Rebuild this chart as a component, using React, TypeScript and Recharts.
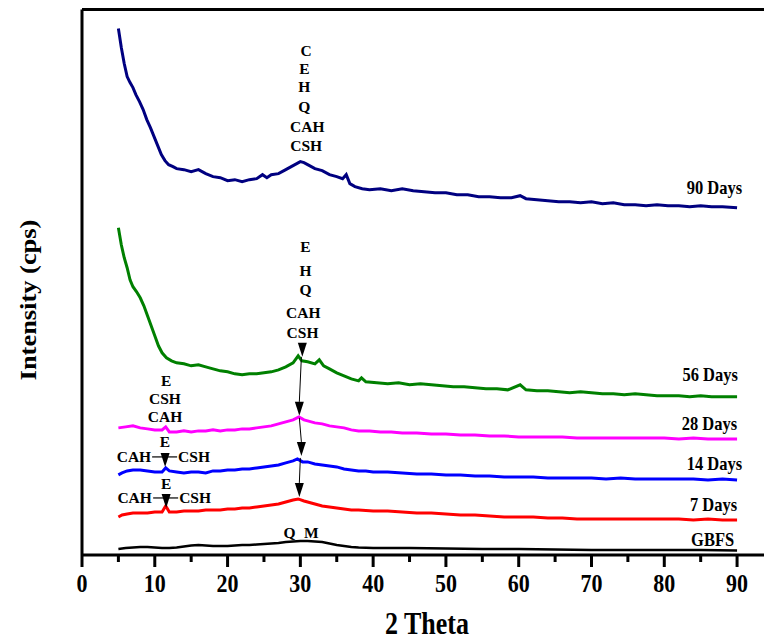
import { LineChart, Line, XAxis, YAxis, ReferenceDot, ReferenceLine } from "recharts";

// 2θ (deg) vs intensity (arbitrary cps, series stacked with offsets as in the figure)
const days90: [number, number][] = [
  [5, 5260], [5.4, 5070], [5.8, 4910], [6.2, 4780], [6.6, 4720], [7, 4670], [7.4, 4600], [7.9, 4530],
  [8.4, 4450], [8.9, 4350], [9.4, 4270], [9.9, 4180], [10.4, 4090], [10.9, 4000], [11.4, 3940], [11.9, 3900],
  [12.5, 3880], [13, 3860], [14, 3850], [15, 3830], [16, 3850], [17, 3810], [18, 3780], [19, 3770],
  [20, 3740], [21, 3750], [22, 3730], [23, 3750], [24, 3760], [24.8, 3800], [25.4, 3770], [26, 3800],
  [27, 3810], [28, 3850], [29, 3890], [30, 3930], [30.5, 3920], [31, 3900], [32, 3860], [33, 3840],
  [34, 3800], [35, 3780], [35.8, 3760], [36.3, 3800], [36.8, 3710], [37.5, 3680], [38.5, 3660], [39.5, 3650],
  [41, 3660], [42.5, 3640], [44, 3660], [45.5, 3640], [47, 3630], [48.5, 3620], [50, 3620], [51.5, 3600],
  [53, 3600], [54.5, 3580], [56, 3580], [57.5, 3570], [59, 3570], [60.2, 3590], [61, 3560], [62.5, 3550],
  [64, 3540], [65.5, 3530], [67, 3530], [68.5, 3520], [70, 3530], [71.5, 3510], [73, 3520], [74.5, 3500],
  [76, 3500], [77.5, 3490], [79, 3500], [80.5, 3490], [82, 3490], [83.5, 3480], [85, 3490], [86.5, 3480],
  [88, 3480], [90, 3470],
];

const days56: [number, number][] = [
  [5, 3270], [5.4, 3100], [5.8, 2970], [6.2, 2870], [6.6, 2750], [7, 2680], [7.5, 2630], [8, 2570],
  [8.5, 2490], [9, 2390], [9.5, 2290], [10, 2190], [10.5, 2090], [11, 2020], [11.6, 1970], [12.3, 1940],
  [13, 1920], [14, 1910], [15, 1890], [16, 1900], [17, 1880], [18, 1860], [19, 1840], [20, 1830],
  [21, 1810], [22, 1800], [23, 1810], [24, 1810], [25, 1820], [26, 1830], [27, 1850], [28, 1880],
  [29, 1920], [29.7, 1990], [30.2, 1940], [31, 1930], [32, 1910], [32.6, 1950], [33.2, 1890], [34, 1860],
  [35, 1820], [36, 1790], [37, 1760], [38, 1740], [38.4, 1770], [39, 1730], [40.5, 1720], [42, 1710],
  [43.5, 1720], [45, 1700], [46.5, 1710], [48, 1700], [49.5, 1690], [51, 1680], [52.5, 1680], [54, 1670],
  [55.5, 1660], [57, 1660], [58.5, 1650], [60.2, 1700], [61, 1650], [62.5, 1640], [64, 1640], [65.5, 1630],
  [67, 1620], [68.5, 1630], [70, 1620], [71.5, 1610], [73, 1610], [74.5, 1600], [76, 1610], [77.5, 1600],
  [79, 1590], [80.5, 1590], [82, 1590], [83.5, 1580], [85, 1590], [86.5, 1580], [88, 1580], [90, 1580],
];

const days28: [number, number][] = [
  [5, 1270], [6, 1280], [7, 1290], [8, 1270], [9, 1260], [10, 1250], [11, 1250], [11.5, 1280],
  [12, 1230], [13, 1230], [14, 1240], [15, 1230], [16, 1240], [17, 1240], [18, 1250], [19, 1240],
  [20, 1250], [21, 1250], [22, 1260], [23, 1260], [24, 1270], [25, 1280], [26, 1290], [27, 1310],
  [28, 1330], [29, 1350], [29.8, 1380], [30.5, 1350], [31, 1340], [32, 1320], [33, 1310], [34, 1290],
  [35, 1280], [36, 1270], [37, 1250], [38, 1240], [39.5, 1240], [41, 1230], [42.5, 1230], [44, 1220],
  [46, 1220], [48, 1210], [50, 1210], [52, 1200], [54, 1200], [56, 1190], [58, 1190], [60, 1180],
  [62, 1180], [64, 1180], [66, 1180], [68, 1170], [70, 1170], [72, 1170], [74, 1170], [76, 1170],
  [78, 1170], [80, 1170], [82, 1160], [84, 1170], [86, 1160], [88, 1160], [90, 1160],
];

const days14: [number, number][] = [
  [5, 800], [5.5, 820], [6.2, 840], [7, 850], [8, 850], [9, 840], [10, 830], [11, 830],
  [11.5, 870], [12, 840], [13, 830], [14, 820], [15, 830], [16, 830], [17, 820], [18, 840],
  [19, 840], [20, 850], [21, 850], [22, 860], [23, 860], [24, 870], [25, 880], [26, 890],
  [27, 900], [28, 920], [29, 940], [29.6, 960], [30.3, 930], [31, 930], [32, 910], [33, 900],
  [34, 890], [35, 880], [36, 860], [37, 850], [38, 840], [39, 840], [40, 830], [42, 830],
  [44, 820], [46, 810], [48, 810], [50, 800], [52, 800], [54, 790], [56, 790], [58, 780],
  [60, 780], [62, 780], [64, 770], [66, 770], [68, 770], [70, 770], [72, 760], [74, 770],
  [76, 760], [78, 760], [80, 760], [82, 760], [84, 760], [86, 750], [88, 760], [90, 750],
];

const days7: [number, number][] = [
  [5, 380], [5.5, 400], [6.2, 410], [7, 420], [8, 420], [9, 420], [10, 430], [11, 430],
  [11.5, 490], [12, 430], [13, 430], [14, 440], [15, 440], [16, 440], [17, 450], [18, 450],
  [19, 450], [20, 460], [21, 460], [22, 470], [23, 470], [24, 480], [25, 490], [26, 500],
  [27, 510], [28, 530], [29, 550], [29.7, 560], [30.5, 540], [31, 530], [32, 510], [33, 490],
  [34, 480], [35, 470], [36, 460], [37, 450], [38, 450], [40, 440], [42, 440], [44, 430],
  [46, 420], [48, 420], [50, 410], [52, 400], [54, 400], [56, 390], [58, 380], [60, 380],
  [62, 380], [64, 370], [66, 370], [68, 360], [70, 360], [72, 360], [74, 360], [76, 360],
  [78, 360], [80, 360], [82, 360], [84, 350], [86, 360], [88, 350], [90, 350],
];

const gbfs: [number, number][] = [
  [5, 60], [6, 70], [7, 75], [8, 80], [9, 80], [10, 75], [11, 70], [12, 70],
  [13, 75], [14, 85], [15, 95], [16, 100], [17, 95], [18, 90], [19, 90], [20, 90],
  [21, 95], [22, 100], [23, 100], [24, 105], [25, 110], [26, 115], [27, 120], [28, 130],
  [29, 135], [30, 140], [31, 140], [32, 135], [33, 130], [34, 115], [35, 100], [36, 90],
  [37, 80], [38, 75], [40, 70], [45, 70], [50, 65], [55, 60], [60, 60], [65, 55],
  [70, 50], [75, 50], [80, 50], [85, 50], [90, 45],
];

const seriesNames = ["90 Days", "56 Days", "28 Days", "14 Days", "7 Days", "GBFS"];
const seriesColors = ["#000080", "#008000", "#ff00ff", "#0000ff", "#ff0000", "#000000"];
const seriesData = [days90, days56, days28, days14, days7, gbfs];

// series name labels at right end
const nameSpots: [number, number][] = [
  [90.7, 3670], [90.1, 1800], [90.0, 1310], [90.7, 910], [90.0, 500], [89.6, 150],
];

// phase annotations: x, y, text, anchor
const phaseNotes: [number, number, string, string][] = [
  [30.8, 5040, "C", "middle"], [30.55, 4860, "E", "middle"], [30.55, 4675, "H", "middle"],
  [30.55, 4480, "Q", "middle"], [30.95, 4280, "CAH", "middle"], [30.8, 4090, "CSH", "middle"],
  [30.7, 3080, "E", "middle"], [30.7, 2840, "H", "middle"], [30.7, 2650, "Q", "middle"],
  [30.4, 2420, "CAH", "middle"], [30.3, 2220, "CSH", "middle"],
  [11.55, 1745, "E", "middle"], [11.4, 1560, "CSH", "middle"], [11.4, 1380, "CAH", "middle"],
  [11.4, 1130, "E", "middle"], [9.5, 980, "CAH", "end"], [13.2, 980, "CSH", "start"],
  [11.55, 710, "E", "middle"], [9.6, 570, "CAH", "end"], [13.35, 570, "CSH", "start"],
  [28.5, 220, "Q", "middle"], [31.5, 220, "M", "middle"],
];

// arrow tips (down-pointing) and the leader segments between them
const arrowTips: [number, number][] = [[30.27, 1980], [29.86, 1390], [30.14, 990], [29.86, 580]];
const crossTips: [number, number][] = [[11.42, 880], [11.56, 470]];
const leaders: [number, number, number, number][] = [
  [30.14, 1980, 29.86, 1530], [29.86, 1370, 30.14, 1130], [30.0, 970, 29.86, 720],
];

const bottomTicks = [0, 5, 10, 15, 20, 25, 30, 35, 40, 45, 50, 55, 60, 65, 70, 75, 80, 85, 90];
const topTicks = [5, 10, 15, 20, 25, 30, 35, 40, 45, 50, 55, 60, 65, 70, 75, 80, 85, 90];
const yTicks = Array.from({ length: 38 }, (_, i) => (i * 5450) / 37);

const FONT = '"Liberation Serif", "Times New Roman", serif';

function StretchText({ x, y, text, size, anchor = "middle", sy = 1.05 }: any) {
  return (
    <g transform={`translate(${x},${y}) scale(1,${sy})`}>
      <text x={0} y={0} dy="0.34em" textAnchor={anchor} fontFamily={FONT} fontWeight="bold" fontSize={size} fill="#000">
        {text}
      </text>
    </g>
  );
}

// bottom tick: long mark + label every 10, short mark in between
function XTick({ x, y, payload }: any) {
  const major = payload.value % 10 === 0;
  return (
    <g>
      <line x1={x} x2={x} y1={y} y2={y + (major ? 12 : 7)} stroke="#000" strokeWidth={3} />
      {major && <StretchText x={x} y={y + 28} text={payload.value} size={22} sy={1.15} />}
    </g>
  );
}

const axisStyle = { stroke: "#000", strokeWidth: 3 };

export default function App() {
  return (
    <div style={{ position: "absolute", left: 0, top: 0, width: 764, height: 640, overflow: "hidden", background: "#fff" }}>
      <LineChart width={764} height={640} margin={{ top: 9.5, right: 0, bottom: 84, left: 82 }}>
        <XAxis xAxisId="top" orientation="top" mirror type="number" domain={[0, 93.7]} allowDataOverflow ticks={topTicks}
          interval={0} tick={false} tickSize={4} axisLine={axisStyle} tickLine={{ stroke: "#000", strokeWidth: 1.5 }} height={1} />
        <XAxis xAxisId="main" dataKey="x" type="number" domain={[0, 93.7]} allowDataOverflow ticks={bottomTicks} interval={0}
          tick={<XTick />} tickLine={false} tickSize={0} tickMargin={0} axisLine={axisStyle} height={1}
          label={{
            content: ({ viewBox }: any) => (
              <StretchText x={viewBox.x + viewBox.width / 2 + 4} y={623} text="2 Theta" size={26} sy={1.2} />
            ),
          }}
        />
        <YAxis yAxisId="y" type="number" domain={[0, 5450]} allowDataOverflow ticks={yTicks} interval={0} mirror width={1}
          tick={false} tickSize={4} axisLine={axisStyle} tickLine={{ stroke: "#000", strokeWidth: 1.5 }}
          label={{
            content: () => (
              <g transform="translate(28,300) rotate(-90) scale(1.15,1)">
                <text x={0} y={0} dy="0.34em" textAnchor="middle" fontFamily={FONT} fontWeight="bold" fontSize={23} fill="#000">
                  Intensity (cps)
                </text>
              </g>
            ),
          }}
        />
        {seriesData.map((s, i) => (
          <Line key={seriesNames[i]} xAxisId="main" yAxisId="y" data={s.map(([x, v]) => ({ x, v }))} dataKey="v"
            type="linear" stroke={seriesColors[i]} strokeWidth={i === 5 ? 2.4 : 3} dot={false} isAnimationActive={false} />
        ))}
        {leaders.map(([x1, y1, x2, y2], i) => (
          <ReferenceLine key={"l" + i} xAxisId="main" yAxisId="y" segment={[{ x: x1, y: y1 }, { x: x2, y: y2 }]}
            stroke="#000" strokeWidth={1} ifOverflow="visible" />
        ))}
        {arrowTips.map(([x, y], i) => (
          <ReferenceDot key={"a" + i} xAxisId="main" yAxisId="y" x={x} y={y} r={0} ifOverflow="visible"
            shape={(p: any) => <path d={`M${p.cx - 4.5},${p.cy - 14}L${p.cx + 4.5},${p.cy - 14}L${p.cx},${p.cy}Z`} fill="#000" />} />
        ))}
        {crossTips.map(([x, y], i) => (
          <ReferenceDot key={"c" + i} xAxisId="main" yAxisId="y" x={x} y={y} r={0} ifOverflow="visible"
            shape={(p: any) => (
              <g>
                <line x1={p.cx - 13} x2={p.cx + 12} y1={p.cy - 10} y2={p.cy - 10} stroke="#000" strokeWidth={1.2} />
                <path d={`M${p.cx - 4.5},${p.cy - 14}L${p.cx + 4.5},${p.cy - 14}L${p.cx},${p.cy}Z`} fill="#000" />
              </g>
            )} />
        ))}
        {phaseNotes.map(([x, y, text, anchor], i) => (
          <ReferenceDot key={"n" + i} xAxisId="main" yAxisId="y" x={x} y={y} r={0} ifOverflow="visible"
            shape={(p: any) => <StretchText x={p.cx} y={p.cy} text={text} size={15.5} anchor={anchor} sy={1} />} />
        ))}
        {nameSpots.map(([x, y], i) => (
          <ReferenceDot key={"s" + i} xAxisId="main" yAxisId="y" x={x} y={y} r={0} ifOverflow="visible"
            shape={(p: any) => <StretchText x={p.cx} y={p.cy} text={seriesNames[i]} size={16.5} anchor="end" sy={1.1} />} />
        ))}
      </LineChart>
    </div>
  );
}
